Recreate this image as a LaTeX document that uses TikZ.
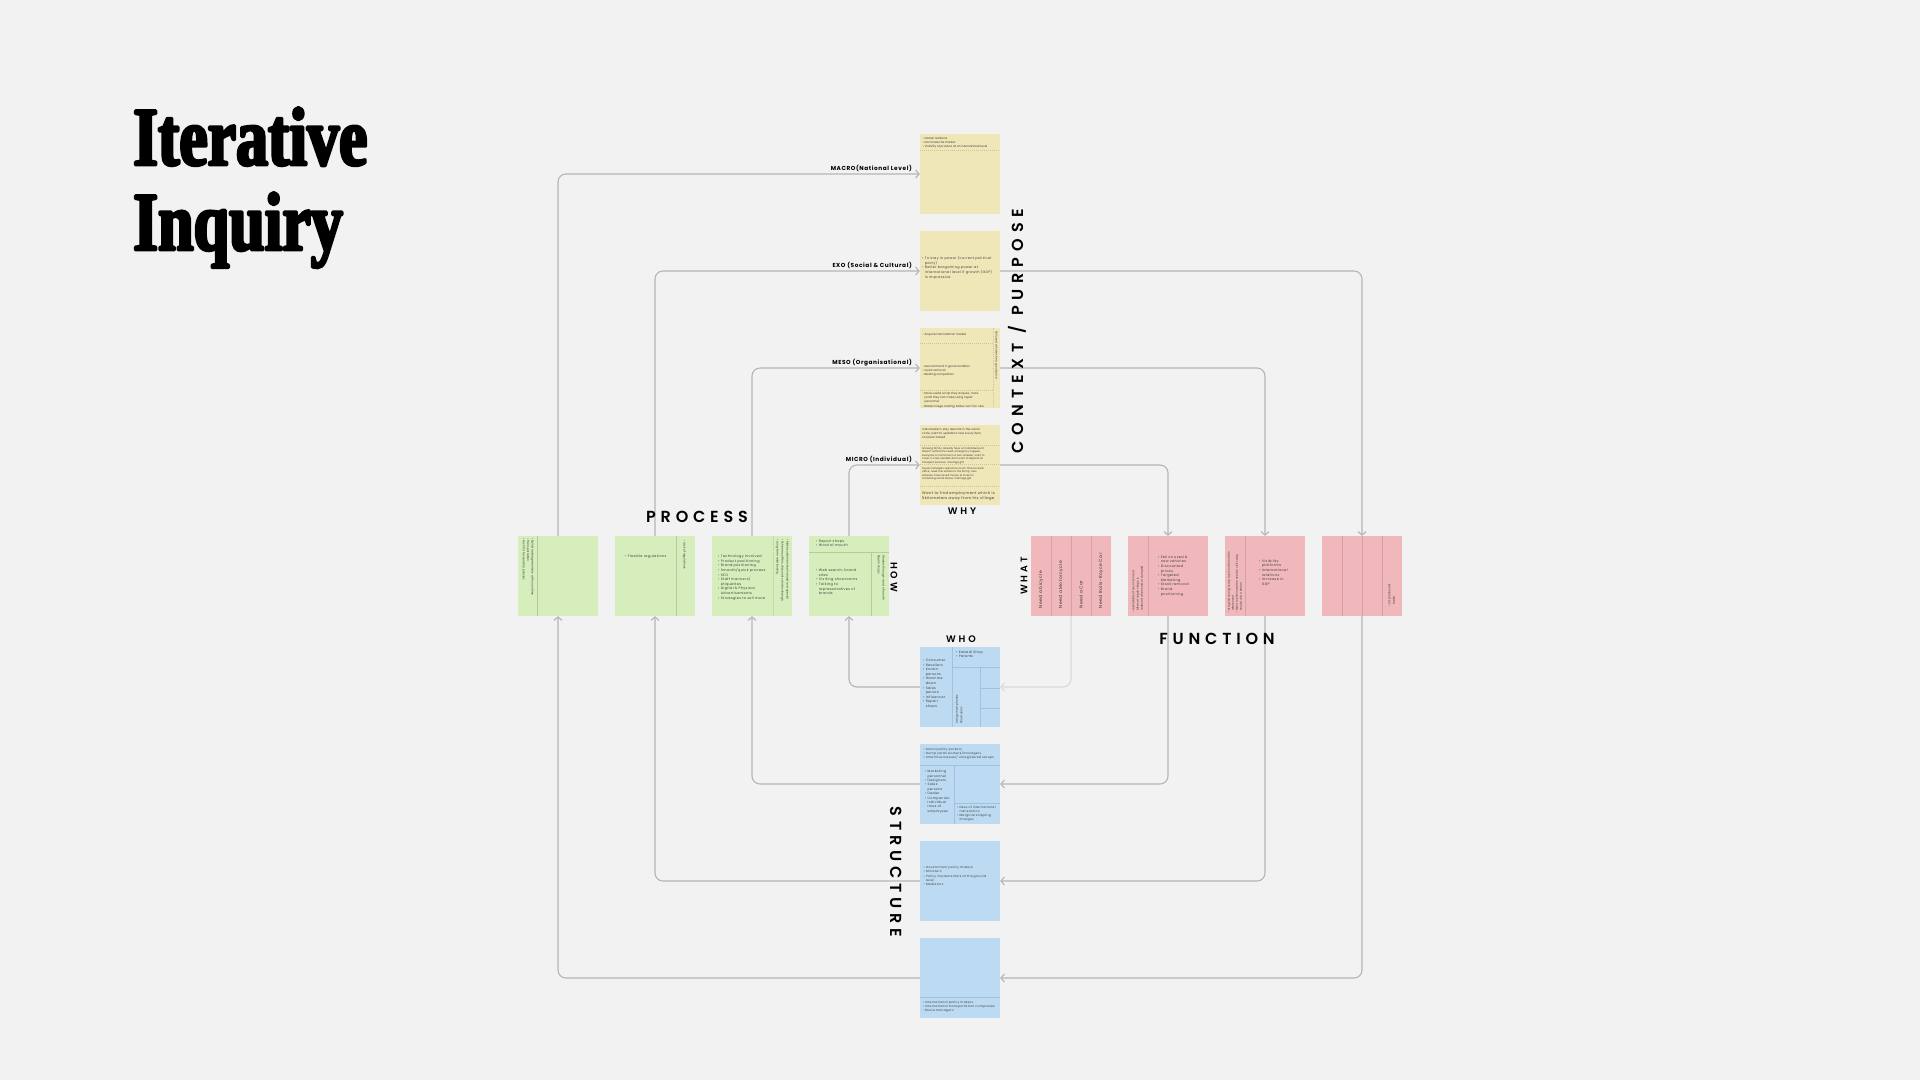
\documentclass[tikz,border=0pt]{standalone}
\usepackage{fontspec}
\usetikzlibrary{arrows.meta}
\newfontfamily\pop{Poppins}
\newfontfamily\popl[LetterSpace=10]{Poppins}
\newfontfamily\popw[LetterSpace=30,BoldFont={Poppins SemiBold}]{Poppins}
\newfontfamily\popx[LetterSpace=37,BoldFont={Poppins SemiBold}]{Poppins}
\newfontfamily\titlefont[FakeStretch=0.77,FakeBold=3.5]{Liberation Serif}
\definecolor{bgc}{HTML}{F2F2F2}
\definecolor{yel}{HTML}{F0E7B9}
\definecolor{grn}{HTML}{D5EEBB}
\definecolor{rdc}{HTML}{F0B8BA}
\definecolor{blu}{HTML}{BCDAF1}
\definecolor{linec}{HTML}{B5B5B5}
\definecolor{linel}{HTML}{D9D9D9}
\definecolor{txtc}{HTML}{3C3C3C}
\definecolor{ydc}{HTML}{CFC393}
\definecolor{gdc}{HTML}{B9C99A}
\definecolor{rdd}{HTML}{D99FA2}
\definecolor{bdc}{HTML}{9FC2DE}
\begin{document}
\begin{tikzpicture}[x=1pt,y=-1pt,line join=round,
  sticky/.style={minimum width=80pt,minimum height=80pt,inner sep=0pt,draw=none},
  conn/.style={draw=linec,line width=1.1pt,rounded corners=8pt,-{Straight Barb[length=3.5pt,width=8pt]}},
  connl/.style={conn,draw=linel},
  st/.style={inner sep=0pt,anchor=north west,align=left,text=txtc,font={\pop\fontsize{3.2}{4.6}\selectfont}},
  stl/.style={st,font={\popl\fontsize{3.2}{4.6}\selectfont}},
  ydiv/.style={draw=ydc,line width=0.5pt,dash pattern=on 1pt off 1pt},
  gdiv/.style={draw=gdc,line width=0.5pt},
  rdiv/.style={draw=rdd,line width=0.5pt},
  bdiv/.style={draw=bdc,line width=0.5pt},
  lab/.style={inner sep=0pt,text=black,font={\popl\bfseries\fontsize{5.8}{6}\selectfont}},
  big/.style={inner sep=0pt,text=black,font={\popw\bfseries\fontsize{16}{16}\selectfont}},
  bigx/.style={inner sep=0pt,text=black,font={\popx\bfseries\fontsize{16}{16}\selectfont}},
  mid/.style={inner sep=0pt,text=black,font={\popw\bfseries\fontsize{9.5}{10}\selectfont}}]
\fill[bgc] (0,0) rectangle (1920,1080);
\useasboundingbox (0,0) rectangle (1920,1080);
% title
\node[anchor=base west,inner sep=0pt] (title1) at (133,165) {\titlefont\bfseries\fontsize{83}{83}\selectfont Iterative};
\node[anchor=base west,inner sep=0pt] (title2) at (133,250) {\titlefont\bfseries\fontsize{83}{83}\selectfont Inquiry};
% stickies
\node[sticky,fill=yel] (y1) at (960,174) {};
\node[sticky,fill=yel] (y2) at (960,271) {};
\node[sticky,fill=yel] (y3) at (960,368) {};
\node[sticky,fill=yel] (y4) at (960,465) {};
\node[sticky,fill=grn] (g1) at (558,576) {};
\node[sticky,fill=grn] (g2) at (655,576) {};
\node[sticky,fill=grn] (g3) at (752,576) {};
\node[sticky,fill=grn] (g4) at (849,576) {};
\node[sticky,fill=rdc] (r1) at (1071,576) {};
\node[sticky,fill=rdc] (r2) at (1168,576) {};
\node[sticky,fill=rdc] (r3) at (1265,576) {};
\node[sticky,fill=rdc] (r4) at (1362,576) {};
\node[sticky,fill=blu] (b1) at (960,687) {};
\node[sticky,fill=blu] (b2) at (960,784) {};
\node[sticky,fill=blu] (b3) at (960,881) {};
\node[sticky,fill=blu] (b4) at (960,978) {};
% yellow 1
\begin{scope}[shift={(920,134)}]
\node[st,font={\pop\fontsize{2.9}{4.2}\selectfont}] (y1a) at (2.5,3) {• Global relations\\• Dominate the market\\• Visibility of product at an international level};
\draw[ydiv] (0,16) -- (80,16);
\end{scope}
% yellow 2
\begin{scope}[shift={(920,231)}]
\node[stl,font={\popl\fontsize{3.4}{4.8}\selectfont}] (y2a) at (2,25) {• To stay in power (current political\\\phantom{• }party)\\• Better bargaining power at\\\phantom{• }international level if growth (GDP)\\\phantom{• }is impressive};
\end{scope}
% yellow 3
\begin{scope}[shift={(920,328)}]
\node[st,font={\pop\fontsize{2.9}{4.2}\selectfont}] (y3a) at (2.5,5) {• Acquire international market};
\draw[ydiv] (0,15) -- (73,15);
\node[st,font={\pop\fontsize{2.9}{4.2}\selectfont}] (y3b) at (2.5,37) {• Second hand in good condition\\• Quick removal\\• Beating competition};
\draw[ydiv] (0,62) -- (73,62);
\node[st,font={\pop\fontsize{2.9}{4.2}\selectfont}] (y3c) at (2.5,64) {• More useful scrap they acquire, more\\\phantom{• }profit they can make using repair\\\phantom{• }personnel.\\• Blade image casting; Make room for new};
\draw[ydiv] (73,0) -- (73,80);
\node[st,rotate=-90,font={\pop\fontsize{2.8}{4}\selectfont}] (y3d) at (78,3) {Sell used vehicles for a good price};
\end{scope}
% yellow 4
\begin{scope}[shift={(920,425)}]
\node[st,font={\pop\fontsize{2.9}{4.2}\selectfont}] (y4a) at (2,3) {Individualism, stay relevant in the social\\circle, want to update to new luxury item,\\occasion based};
\draw[ydiv] (0,20) -- (80,20);
\node[st,font={\pop\fontsize{2.6}{3.6}\selectfont}] (y4b) at (2,22) {Growing family; already have a motorbike but it\\doesn't suffice the need; emergency happen,\\everyone is crammed in a two-wheeler; want to\\cover in case needed; don't want to depend on\\transport services; marriage gift};
\draw[ydiv] (0,39) -- (80,39);
\node[st,font={\pop\fontsize{2.6}{3.6}\selectfont}] (y4c) at (2,42) {Pupils managers spend too much time to reach\\office; need one vehicle to the family; new\\stresses; have saved money to invest in\\increasing social status; marriage gift};
\draw[ydiv] (0,61) -- (80,61);
\node[stl,font={\popl\fontsize{3.7}{5}\selectfont}] (y4d) at (2,66) {Want to find employment which is\\5kilometers away from his village};
\end{scope}
% green 1
\begin{scope}[shift={(518,536)}]
\draw[gdiv] (19,0) -- (19,80);
\node[st,rotate=-90,font={\pop\fontsize{2.9}{4.4}\selectfont}] (g1a) at (16,2) {• Build trade agreements with countries\\• Transportation\\• Push for favourable policies};
\end{scope}
% green 2
\begin{scope}[shift={(615,536)}]
\node[stl,font={\popl\fontsize{3.4}{4.6}\selectfont}] (g2a) at (10,19) {• Flexible regulations};
\draw[gdiv] (61,0) -- (61,80);
\node[st,rotate=-90,font={\pop\fontsize{2.9}{4.2}\selectfont}] (g2b) at (71,4) {• Lack of regulations};
\end{scope}
% green 3
\begin{scope}[shift={(712,536)}]
\node[stl,font={\popl\fontsize{3.4}{4.6}\selectfont}] (g3a) at (6,19) {• Technology involved\\• Product positioning\\• Brand positioning\\• Smooth/quick process\\• SEO\\• Staff manners/\\\phantom{• }etiquettes\\• Digital \& Physical\\\phantom{• }Advertisements\\• Strategies to sell more};
\draw[gdiv,dash pattern=on 1pt off 1pt] (61,0) -- (61,80);
\node[st,rotate=-90,font={\pop\fontsize{2.9}{5}\selectfont}] (g3b) at (77,3) {• Make customers feel valued and special\\• Schemes, offers, discounts and exchange\\• Long-term relationship};
\end{scope}
% green 4
\begin{scope}[shift={(809,536)}]
\node[stl,font={\popl\fontsize{3.4}{4.6}\selectfont}] (g4a) at (7,3.5) {• Repair shops\\• Word of mouth};
\draw[gdiv] (0,16) -- (80,16);
\draw[gdiv] (62,16) -- (62,80);
\node[stl,font={\popl\fontsize{3.4}{4.6}\selectfont}] (g4b) at (7,33) {• Web search; brand\\\phantom{• }sites\\• Visiting showrooms\\• Talking to\\\phantom{• }representatives of\\\phantom{• }brands};
\node[st,rotate=-90,font={\pop\fontsize{2.9}{4.6}\selectfont}] (g4c) at (76,19) {Dealers through word of mouth\\Repair shops};
\end{scope}
% red 1
\begin{scope}[shift={(1031,536)}]
\draw[rdiv] (20,0) -- (20,80);
\draw[rdiv] (40,0) -- (40,80);
\draw[rdiv] (60,0) -- (60,80);
\node[stl,anchor=west,rotate=90,text=black!80,font={\popl\fontsize{4.4}{5}\selectfont}] (r1a) at (10,72.5) {Need a bicycle};
\node[stl,anchor=west,rotate=90,text=black!80,font={\popl\fontsize{4.4}{5}\selectfont}] (r1b) at (30,72.5) {Need a Motorcycle};
\node[stl,anchor=west,rotate=90,text=black!80,font={\popl\fontsize{4.4}{5}\selectfont}] (r1c) at (50,72.5) {Need a Car};
\node[stl,anchor=west,rotate=90,text=black!80,font={\popl\fontsize{4.4}{5}\selectfont}] (r1d) at (70,72.5) {Need Rolls-Royce Car};
\end{scope}
% red 2
\begin{scope}[shift={(1128,536)}]
\draw[rdiv] (20,0) -- (20,80);
\node[st,rotate=90,font={\pop\fontsize{2.9}{4.2}\selectfont}] (r2a) at (4,77) {• Availability of second-hand\\\phantom{• }bikes at repair shops is\\\phantom{• }reduced when sold or dumped};
\node[stl,font={\popl\fontsize{3.4}{4.6}\selectfont}] (r2b) at (30,19.5) {• EMI on used \&\\\phantom{• }new vehicles\\• Discounted\\\phantom{• }prices\\• Targeted\\\phantom{• }Marketing\\• Stock removal\\• Brand\\\phantom{• }positioning};
\end{scope}
% red 3
\begin{scope}[shift={(1225,536)}]
\draw[rdiv] (20,0) -- (20,80);
\node[st,rotate=90,font={\pop\fontsize{2.8}{4}\selectfont}] (r3a) at (2.5,77) {• Are good during scrap auction when often\\\phantom{• }referenced\\• Want to eliminate the need to visit scrap\\\phantom{• }should visit a dealer};
\node[stl,font={\popl\fontsize{3.4}{4.6}\selectfont}] (r3b) at (34,23.5) {• Visibility\\\phantom{• }platforms\\• International\\\phantom{• }relations\\• Increase in\\\phantom{• }GDP};
\end{scope}
% red 4
\begin{scope}[shift={(1322,536)}]
\draw[rdiv] (20,0) -- (20,80);
\draw[rdiv] (40,0) -- (40,80);
\draw[rdiv] (60,0) -- (60,80);
\node[st,rotate=90,font={\pop\fontsize{3}{4.4}\selectfont}] (r4a) at (66,71) {• Lot produced\\\phantom{• }trade};
\end{scope}
% blue 1
\begin{scope}[shift={(920,647)}]
\draw[bdiv] (32,0) -- (32,80);
\draw[bdiv] (32,20) -- (80,20);
\draw[bdiv] (60,20) -- (60,80);
\draw[bdiv] (60,41) -- (80,41);
\draw[bdiv] (60,61) -- (80,61);
\node[stl,font={\popl\fontsize{3.3}{4.6}\selectfont}] (b1a) at (36,3.5) {• Kabadi Shop\\• Parents};
\node[stl,font={\popl\fontsize{3.3}{4.6}\selectfont}] (b1b) at (3,12) {• Consumer\\• Resellers\\• Known\\\phantom{• }persons\\• Hand me\\\phantom{• }down\\• Sales\\\phantom{• }person\\• Influencer\\• Repair\\\phantom{• }shops};
\node[st,rotate=90,font={\pop\fontsize{2.9}{4.4}\selectfont}] (b1c) at (35.5,77) {Using smart phones\\Showrooms};
\end{scope}
% blue 2
\begin{scope}[shift={(920,744)}]
\node[stl,font={\popl\fontsize{3}{4.2}\selectfont}] (b2a) at (3.5,4) {• Municipality workers\\• Dump yards workers/managers\\• Small businesses/ unregistered setups};
\draw[bdiv] (0,21) -- (80,21);
\draw[bdiv] (34,21) -- (34,80);
\node[stl,font={\popl\fontsize{3.2}{4.4}\selectfont}] (b2b) at (5,26) {• Marketing\\\phantom{• }personnel\\• Designers\\• Sales\\\phantom{• }persons\\• Dealer\\• Companies:\\\phantom{• }Individual\\\phantom{• }roles of\\\phantom{• }employees};
\draw[bdiv] (34,59) -- (80,59);
\node[stl,font={\popl\fontsize{3}{4.2}\selectfont}] (b2c) at (37,61.5) {• Ease of international\\\phantom{• }transaction\\• Marginal shipping\\\phantom{• }charges};
\end{scope}
% blue 3
\begin{scope}[shift={(920,841)}]
\node[stl,font={\popl\fontsize{3}{4.3}\selectfont}] (b3a) at (3.5,25) {• Government policy makers\\• Ministers\\• Policy implementers at the ground\\\phantom{• }level\\• Mediators};
\end{scope}
% blue 4
\begin{scope}[shift={(920,938)}]
\draw[bdiv] (0,59) -- (80,59);
\node[stl,font={\popl\fontsize{3}{4.2}\selectfont}] (b4a) at (2.5,63) {• International policy makers\\• International transportation companies\\• Route managers};
\end{scope}
% connectors
\draw[conn] (g1.north) |- (y1.west);
\draw[conn] (g2.north) |- (y2.west);
\draw[conn] (g3.north) |- (y3.west);
\draw[conn] (g4.north) |- (y4.west);
\draw[conn] (y2.east) -| (r4.north);
\draw[conn] (y3.east) -| (r3.north);
\draw[conn] (y4.east) -| (r2.north);
\draw[connl] (r1.south) |- (b1.east);
\draw[conn] (r2.south) |- (b2.east);
\draw[conn] (r3.south) |- (b3.east);
\draw[conn] (r4.south) |- (b4.east);
\draw[conn] (b1.west) -| (g4.south);
\draw[conn] (b2.west) -| (g3.south);
\draw[conn] (b3.west) -| (g2.south);
\draw[conn] (b4.west) -| (g1.south);
% connector labels
\node[lab,anchor=base east] (lmacro) at (912,170) {MACRO(National Level)};
\node[lab,anchor=base east] (lexo) at (912,267) {EXO (Social \& Cultural)};
\node[lab,anchor=base east] (lmeso) at (912,364.5) {MESO (Organisational)};
\node[lab,anchor=base east] (lmicro) at (912,461.5) {MICRO (Individual)};
% section labels
\node[big] (lprocess) at (697,517) {PROCESS};
\node[big] (lfunction) at (1217,639) {FUNCTION};
\node[bigx,rotate=90] (lcontext) at (1017,331) {CONTEXT / PURPOSE};
\node[big,rotate=-90] (lstructure) at (896,872) {STRUCTURE};
\node[mid,rotate=-90] (lhow) at (894,577) {HOW};
\node[mid,rotate=90] (lwhat) at (1024,576) {WHAT};
\node[mid] (lwhy) at (962,511) {WHY};
\node[mid] (lwho) at (961,639) {WHO};
\end{tikzpicture}
\end{document}
